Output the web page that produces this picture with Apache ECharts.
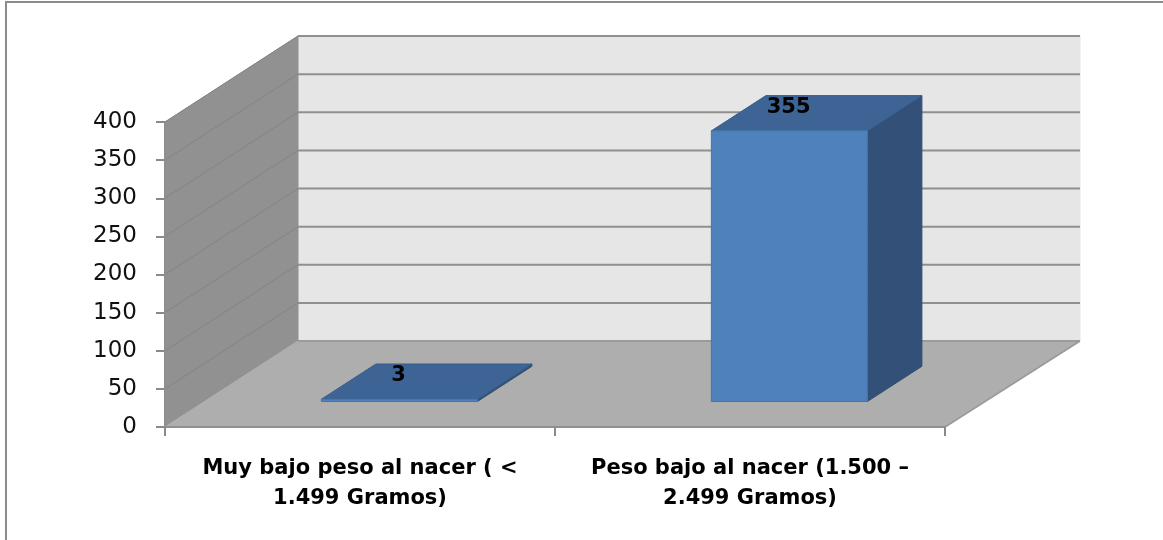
<!DOCTYPE html>
<html><head><meta charset="utf-8">
<style>html,body{margin:0;padding:0;background:#fff}#c{width:1163px;height:540px}</style>
<script src="https://cdn.jsdelivr.net/npm/echarts@6/dist/echarts.min.js"></script>
</head><body><div id="c"></div>
<script>
const categories = ['Muy bajo peso al nacer ( <\n1.499 Gramos)', 'Peso bajo al nacer (1.500 –\n2.499 Gramos)'];
const values = [3, 355];
const yTicks = [0, 50, 100, 150, 200, 250, 300, 350, 400];

const DX = 133, DY = -86, BACK_EXTRA = 2; // full depth of the 3D box, in pixels
const BAR_W = 0.4, D0 = 0.296, D1 = 0.706; // bar width (share of band), front/back depth
const LINE = '#8f8f8f';

const chart = echarts.init(document.getElementById('c'), null, {renderer: 'canvas'});
const poly = (pts, fill, stroke, lw) => ({type: 'polygon', shape: {points: pts},
  style: {fill, stroke: stroke || fill, lineWidth: lw === undefined ? 1 : lw}});
const line = (a, b, stroke, lw) => ({type: 'line',
  shape: {x1: a[0], y1: a[1], x2: b[0], y2: b[1]}, style: {stroke, lineWidth: lw}});

function renderBox(params, api) {
  const band = api.size([1, 0])[0];
  const l = api.coord([0, 0])[0] - band / 2;
  const r = l + band * categories.length;
  const rb = r + DX + BACK_EXTRA;
  const y = v => api.coord([0, v])[1];
  const y0 = y(0), yT = y(yTicks[yTicks.length - 1]);
  const children = [
    poly([[l + DX, yT + DY], [rb, yT + DY], [rb, y0 + DY], [l + DX, y0 + DY]], '#e6e6e6'),
    poly([[l, yT], [l + DX, yT + DY], [l + DX, y0 + DY], [l, y0]], '#919191'),
    poly([[l, y0], [l + DX, y0 + DY], [rb, y0 + DY], [r, y0]], '#aeaeae')
  ];
  yTicks.forEach(t => {
    if (t > 0) children.push(line([l, y(t)], [l + DX, y(t) + DY], '#848484', 1));
    children.push(line([l + DX, y(t) + DY], [rb, y(t) + DY], t === 0 ? '#9a9a9a' : LINE, 2));
  });
  children.push(line([r, y0], [rb, y0 + DY], '#9a9a9a', 1.5));
  return {type: 'group', children};
}

function renderBar(params, api) {
  const c = api.coord([api.value(0), 0]);
  const top = api.coord([api.value(0), api.value(1)])[1];
  const w = api.size([1, 0])[0] * BAR_W;
  const p = (side, yy, d) => [c[0] + side * w / 2 + DX * d, yy + DY * d];
  const y0 = c[1];
  const fl = p(-1, y0, D0), fr = p(1, y0, D0), ftl = p(-1, top, D0), ftr = p(1, top, D0);
  const bl = p(-1, top, D1), br = p(1, top, D1), bb = p(1, y0, D1);
  const cx = (ftl[0] + br[0]) / 2, cy = (ftl[1] + br[1]) / 2;
  return {type: 'group', children: [
    poly([fr, bb, br, ftr], '#325078', '#30506f', 1),
    poly([ftl, bl, br, ftr], '#3d6494', '#3a5f8c', 1),
    poly([fl, fr, ftr, ftl], '#4f81bd', '#4674ab', 1),
    {type: 'text', z2: 10, style: {text: String(api.value(1)), x: cx - 28, y: cy - 6,
      align: 'center', verticalAlign: 'middle', fill: '#000',
      font: 'bold 21px "DejaVu Sans"'}}
  ]};
}

chart.setOption({
  animation: false,
  backgroundColor: '#fff',
  grid: {left: 165, right: 218, top: 122, bottom: 113},
  graphic: [{type: 'polyline', silent: true, z: 100,
    shape: {points: [[6, 540], [6, 2], [1163, 2]]},
    style: {fill: 'none', stroke: '#8c8c8c', lineWidth: 2}}],
  xAxis: {type: 'category', data: categories, z: 5,
    axisLine: {lineStyle: {color: '#8f8f8f', width: 2}},
    axisTick: {show: true, alignWithLabel: false, length: 9, lineStyle: {color: '#8a8a8a', width: 2}},
    axisLabel: {interval: 0, margin: 27, lineHeight: 30,
      color: '#000', fontFamily: '"DejaVu Sans"', fontWeight: 'bold', fontSize: 21}},
  yAxis: {type: 'value', min: 0, max: 400, interval: 50, z: 5,
    splitLine: {show: false},
    axisLine: {show: true, lineStyle: {color: '#8f8f8f', width: 2}},
    axisTick: {show: true, length: 9, lineStyle: {color: '#8a8a8a', width: 2}},
    axisLabel: {margin: 28, color: '#111', fontFamily: '"DejaVu Sans"', fontSize: 23, lineHeight: 23, padding: [5, 0, 0, 0]}},
  series: [
    {type: 'custom', name: 'box', z: 1, silent: true, clip: false,
      coordinateSystem: 'cartesian2d', data: [[0, 0]], renderItem: renderBox},
    {type: 'custom', name: 'bars', z: 2, silent: true, clip: false,
      coordinateSystem: 'cartesian2d', encode: {x: 0, y: 1},
      data: values.map((v, i) => [i, v]), renderItem: renderBar}
  ]
});
</script></body></html>
